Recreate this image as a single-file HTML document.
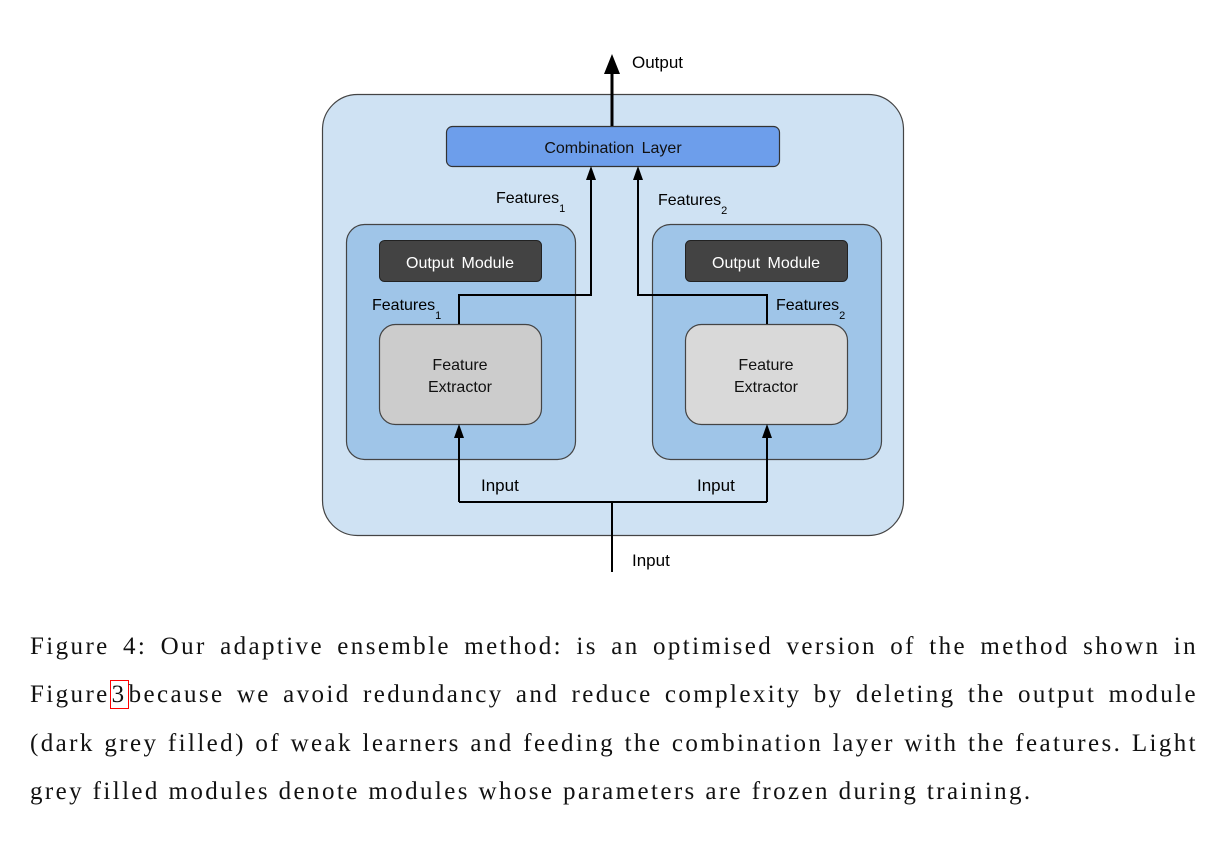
<!DOCTYPE html>
<html><head><meta charset="utf-8"><style>
body{margin:0;width:1226px;height:849px;background:#fff;position:relative;overflow:hidden}
svg{position:absolute;left:0;top:0}
.l{position:absolute;left:30px;width:1168px;font-family:"Liberation Serif",serif;font-size:25px;letter-spacing:2.4px;line-height:30px;text-align:justify;text-align-last:justify;color:#111;white-space:nowrap}
.last{text-align-last:left}
.ref{border:1px solid #f00;padding:0 1px}
</style></head><body>
<svg width="1226" height="620" font-family="Liberation Sans, Arial, sans-serif">
<rect x="322.5" y="94.5" width="581" height="441" rx="35" fill="#cfe2f3" stroke="#444" stroke-width="1.2"/>
<rect x="446.5" y="126.5" width="333" height="40" rx="6" fill="#6d9eeb" stroke="#333" stroke-width="1.2"/>
<text x="613" y="153" text-anchor="middle" font-size="16" fill="#111" word-spacing="3">Combination Layer</text>
<rect x="346.5" y="224.5" width="229" height="235" rx="18" fill="#9fc5e8" stroke="#444" stroke-width="1.2"/>
<rect x="652.5" y="224.5" width="229" height="235" rx="18" fill="#9fc5e8" stroke="#444" stroke-width="1.2"/>
<rect x="379.5" y="240.5" width="162" height="41" rx="5" fill="#434343" stroke="#222"/>
<rect x="685.5" y="240.5" width="162" height="41" rx="5" fill="#434343" stroke="#222"/>
<text x="460" y="268" text-anchor="middle" font-size="16" fill="#fff" word-spacing="3">Output Module</text>
<text x="766" y="268" text-anchor="middle" font-size="16" fill="#fff" word-spacing="3">Output Module</text>
<rect x="379.5" y="324.5" width="162" height="100" rx="16" fill="#cccccc" stroke="#444" stroke-width="1.2"/>
<rect x="685.5" y="324.5" width="162" height="100" rx="16" fill="#d9d9d9" stroke="#444" stroke-width="1.2"/>
<text x="460" y="370" text-anchor="middle" font-size="16" fill="#111">Feature</text>
<text x="460" y="392" text-anchor="middle" font-size="16" fill="#111">Extractor</text>
<text x="766" y="370" text-anchor="middle" font-size="16" fill="#111">Feature</text>
<text x="766" y="392" text-anchor="middle" font-size="16" fill="#111">Extractor</text>
<g fill="none" stroke="#000" stroke-width="2">
<path d="M459,324 V295 H591 V178"/>
<path d="M767,324 V295 H638 V178"/>
<path d="M612,572 V502"/>
<path d="M459,502 H767"/>
<path d="M459,502 V436"/>
<path d="M767,502 V436"/>
<path d="M612,126 V70" stroke-width="3"/>
</g>
<g fill="#000">
<path d="M586,180 L591,166 L596,180 Z"/>
<path d="M633,180 L638,166 L643,180 Z"/>
<path d="M454,438 L459,424 L464,438 Z"/>
<path d="M762,438 L767,424 L772,438 Z"/>
<path d="M604,74 L612,54 L620,74 Z"/>
</g>
<g font-size="17" fill="#000">
<text x="632" y="68">Output</text>
<text x="632" y="566">Input</text>
<text x="481" y="491">Input</text>
<text x="697" y="491">Input</text>
</g>
<g font-size="16" fill="#000">
<text x="496" y="203">Features<tspan font-size="11" dy="9">1</tspan></text>
<text x="658" y="205">Features<tspan font-size="11" dy="9">2</tspan></text>
<text x="372" y="310">Features<tspan font-size="11" dy="9">1</tspan></text>
<text x="776" y="310">Features<tspan font-size="11" dy="9">2</tspan></text>
</g>
</svg>
<div class="l" style="top:632px">Figure 4: Our adaptive ensemble method: is an optimised version of the method shown in</div>
<div class="l" style="top:680px">Figure<span class="ref">3</span>because we avoid redundancy and reduce complexity by deleting the output module</div>
<div class="l" style="top:729px">(dark grey filled) of weak learners and feeding the combination layer with the features. Light</div>
<div class="l last" style="top:777px">grey filled modules denote modules whose parameters are frozen during training.</div>
</body></html>
